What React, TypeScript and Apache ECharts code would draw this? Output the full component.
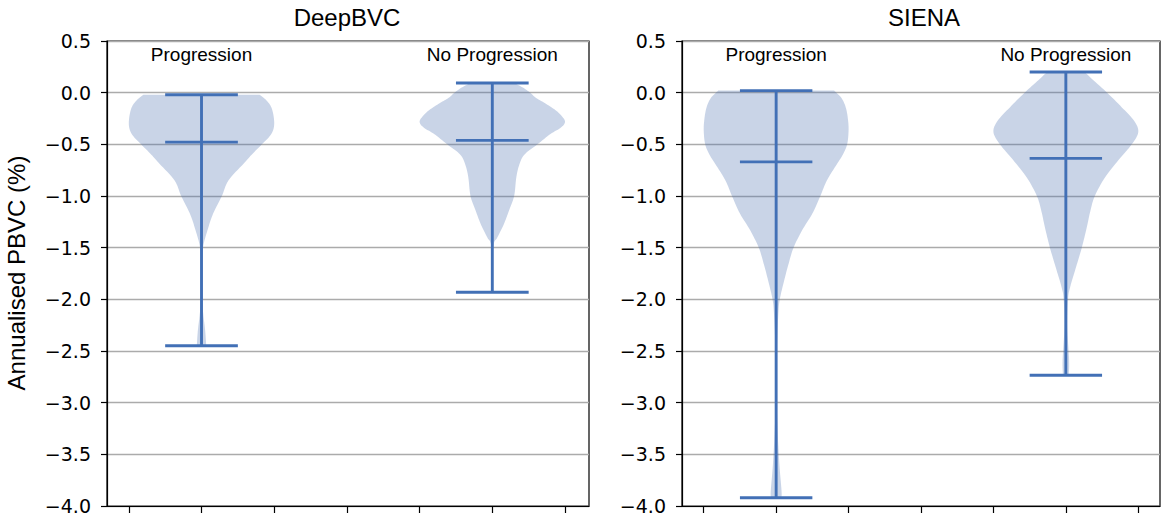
import React, { useEffect, useRef } from "react";
import * as echarts from "echarts";

// ---- data ----
const panelTitles = ["DeepBVC", "SIENA"];
const groupLabels = ["Progression", "No Progression"];
const positions = [1, 5];
const xTickValues = [0, 1, 2, 3, 4, 5, 6];

// [max, median, min] per group
const deepMaxes = [-0.02, 0.093];
const deepMedians = [-0.479, -0.462];
const deepMins = [-2.449, -1.932];
const sienaMaxes = [0.02, 0.2];
const sienaMedians = [-0.67, -0.636];
const sienaMins = [-3.92, -2.735];

// violin profiles: [value, half width in x units]
const deepProgProfile = [
  [-0.02, 0.8], [-0.08, 0.9], [-0.16, 0.97], [-0.3, 1.0], [-0.4, 0.96], [-0.5, 0.83],
  [-0.6, 0.69], [-0.69, 0.575], [-0.85, 0.37], [-1.0, 0.28], [-1.17, 0.16], [-1.33, 0.083],
  [-1.5, 0.02], [-1.7, 0.008], [-2.0, 0.01], [-2.15, 0.025], [-2.3, 0.05], [-2.449, 0.065],
];
const deepNoProgProfile = [
  [0.093, 0.3], [0.05, 0.42], [0.0, 0.52], [-0.05, 0.6], [-0.1, 0.72], [-0.17, 0.87],
  [-0.23, 0.96], [-0.285, 1.0], [-0.34, 0.94], [-0.4, 0.8], [-0.5, 0.62], [-0.6, 0.44],
  [-0.7, 0.37], [-0.82, 0.33], [-1.0, 0.3], [-1.14, 0.23], [-1.27, 0.16], [-1.4, 0.07],
  [-1.46, 0.02], [-1.6, 0.006], [-1.932, 0.006],
];
const sienaProgProfile = [
  [0.02, 0.8], [-0.05, 0.9], [-0.14, 0.96], [-0.25, 0.99], [-0.365, 1.0], [-0.5, 0.98],
  [-0.6, 0.92], [-0.69, 0.84], [-0.85, 0.7], [-1.0, 0.61], [-1.17, 0.5], [-1.33, 0.36],
  [-1.5, 0.24], [-1.66, 0.17], [-1.82, 0.11], [-2.0, 0.05], [-2.14, 0.03], [-2.5, 0.01],
  [-3.0, 0.01], [-3.27, 0.02], [-3.6, 0.045], [-3.86, 0.075], [-3.92, 0.07],
];
const sienaNoProgProfile = [
  [0.2, 0.26], [0.12, 0.38], [0.0, 0.57], [-0.14, 0.77], [-0.27, 0.94], [-0.38, 1.0],
  [-0.5, 0.91], [-0.65, 0.73], [-0.82, 0.54], [-1.0, 0.4], [-1.14, 0.34], [-1.3, 0.29],
  [-1.5, 0.22], [-1.69, 0.14], [-1.88, 0.06], [-2.0, 0.03], [-2.27, 0.02], [-2.59, 0.045],
  [-2.735, 0.04],
];

const panels = [
  {
    title: panelTitles[0],
    maxes: deepMaxes,
    medians: deepMedians,
    mins: deepMins,
    profiles: [deepProgProfile, deepNoProgProfile],
  },
  {
    title: panelTitles[1],
    maxes: sienaMaxes,
    medians: sienaMedians,
    mins: sienaMins,
    profiles: [sienaProgProfile, sienaNoProgProfile],
  },
];

const LINE_COLOR = "#4270b6";
const FILL_COLOR = "rgba(76,114,176,0.3)";
const LABEL_FONT = "'Liberation Sans', Arial, sans-serif";
const TICK_FONT = "'DejaVu Sans', sans-serif";
const CAP_HALF = 0.5;
const LABEL_Y = 0.37;

// Catmull-Rom spline through pixel points (rendering only)
function spline(pts: number[][], steps = 8): number[][] {
  if (pts.length < 3) return pts;
  const out: number[][] = [];
  for (let i = 0; i < pts.length - 1; i++) {
    const p0 = pts[Math.max(0, i - 1)];
    const p1 = pts[i];
    const p2 = pts[i + 1];
    const p3 = pts[Math.min(pts.length - 1, i + 2)];
    for (let s = 0; s < steps; s++) {
      const t = s / steps;
      const t2 = t * t;
      const t3 = t2 * t;
      const f = (a: number, b: number, c: number, d: number) =>
        0.5 * (2 * b + (-a + c) * t + (2 * a - 5 * b + 4 * c - d) * t2 + (-a + 3 * b - 3 * c + d) * t3);
      out.push([f(p0[0], p1[0], p2[0], p3[0]), f(p0[1], p1[1], p2[1], p3[1])]);
    }
  }
  out.push(pts[pts.length - 1]);
  return out;
}

export default function App() {
  const ref = useRef<HTMLDivElement>(null);

  useEffect(() => {
    document.body.style.margin = "0";
    if (!ref.current) return;
    const chart = echarts.init(ref.current, undefined, { renderer: "svg" });

    const grids = [
      { left: 107, top: 41, width: 482, height: 465 },
      { left: 682, top: 41, width: 478, height: 465 },
    ];
    const xMaxes = [6.33, 6.3];

    const series: any[] = [];
    panels.forEach((p, pi) => {
      // violin bodies
      series.push({
        type: "custom",
        xAxisIndex: pi,
        yAxisIndex: pi,
        silent: true,
        z: 2,
        data: positions.map((pos, gi) => [pos, gi]),
        renderItem: (params: any, api: any) => {
          const pos = api.value(0);
          const gi = api.value(1);
          const prof = p.profiles[gi];
          const right = prof.map(([y, hw]) => api.coord([pos + hw, y]));
          const left = prof.map(([y, hw]) => api.coord([pos - hw, y]));
          const r = spline(right);
          const l = spline(left).reverse();
          return {
            type: "polygon",
            shape: { points: r.concat(l) },
            style: { fill: FILL_COLOR, stroke: "none" },
          };
        },
      });
      // whiskers / caps / medians
      series.push({
        type: "custom",
        xAxisIndex: pi,
        yAxisIndex: pi,
        silent: true,
        z: 3,
        data: positions.map((pos, gi) => [pos, p.mins[gi], p.medians[gi], p.maxes[gi]]),
        renderItem: (params: any, api: any) => {
          const pos = api.value(0);
          const mn = api.value(1);
          const md = api.value(2);
          const mx = api.value(3);
          const st = { stroke: LINE_COLOR, lineWidth: 2.9 };
          const hline = (v: number) => {
            const a = api.coord([pos - CAP_HALF, v]);
            const b = api.coord([pos + CAP_HALF, v]);
            return { type: "line", shape: { x1: a[0], y1: a[1], x2: b[0], y2: b[1] }, style: st };
          };
          const top = api.coord([pos, mx]);
          const bot = api.coord([pos, mn]);
          return {
            type: "group",
            children: [
              { type: "line", shape: { x1: top[0], y1: top[1], x2: bot[0], y2: bot[1] }, style: st },
              hline(mx),
              hline(md),
              hline(mn),
            ],
          };
        },
      });
      // group labels
      series.push({
        type: "custom",
        xAxisIndex: pi,
        yAxisIndex: pi,
        silent: true,
        z: 4,
        data: positions.map((pos, gi) => [pos, gi]),
        renderItem: (params: any, api: any) => {
          const pos = api.value(0);
          const gi = api.value(1);
          const c = api.coord([pos, LABEL_Y]);
          return {
            type: "text",
            x: c[0],
            y: c[1],
            style: {
              text: groupLabels[gi],
              fontSize: 19,
              fontFamily: LABEL_FONT,
              fill: "#000",
              align: "center",
              verticalAlign: "middle",
            },
          };
        },
      });
    });

    const option: any = {
      animation: false,
      backgroundColor: "#fff",
      grid: grids.map((g) => ({
        ...g,
        show: true,
        borderColor: "#000",
        borderWidth: 1.2,
        backgroundColor: "transparent",
      })),
      xAxis: grids.map((g, i) => ({
        type: "value",
        gridIndex: i,
        min: -0.3,
        max: xMaxes[i],
        axisLine: { show: true, onZero: false, lineStyle: { color: "#000", width: 1.2 } },
        axisTick: {
          show: true,
          customValues: xTickValues,
          length: 7,
          lineStyle: { color: "#000", width: 1.2 },
        },
        axisLabel: { show: false },
        splitLine: { show: false },
      })),
      yAxis: grids.map((g, i) => ({
        type: "value",
        gridIndex: i,
        min: -4,
        max: 0.5,
        interval: 0.5,
        axisLine: { show: true, onZero: false, lineStyle: { color: "#000", width: 1.2 } },
        axisTick: { show: true, length: 6, lineStyle: { color: "#000", width: 1.2 } },
        axisLabel: {
          show: true,
          margin: 16,
          fontSize: 19,
          fontFamily: TICK_FONT,
          color: "#000",
          formatter: (v: number) => v.toFixed(1).replace("-", "\u2212"),
        },
        splitLine: { show: true, lineStyle: { color: "#ababab", width: 1.3 } },
      })),
      graphic: [
        {
          type: "text",
          x: 347,
          y: 17,
          style: {
            text: panelTitles[0],
            fontSize: 24,
            fontFamily: LABEL_FONT,
            fill: "#000",
            align: "center",
            verticalAlign: "middle",
          },
        },
        {
          type: "text",
          x: 924,
          y: 17,
          style: {
            text: panelTitles[1],
            fontSize: 24,
            fontFamily: LABEL_FONT,
            fill: "#000",
            align: "center",
            verticalAlign: "middle",
          },
        },
        {
          type: "text",
          x: 16,
          y: 273,
          rotation: Math.PI / 2,
          style: {
            text: "Annualised PBVC (%)",
            fontSize: 24,
            fontFamily: LABEL_FONT,
            fill: "#000",
            align: "center",
            verticalAlign: "middle",
          },
        },
      ],
      series,
    };

    chart.setOption(option);
    return () => chart.dispose();
  }, []);

  return <div ref={ref} style={{ width: 1170, height: 523 }} />;
}
